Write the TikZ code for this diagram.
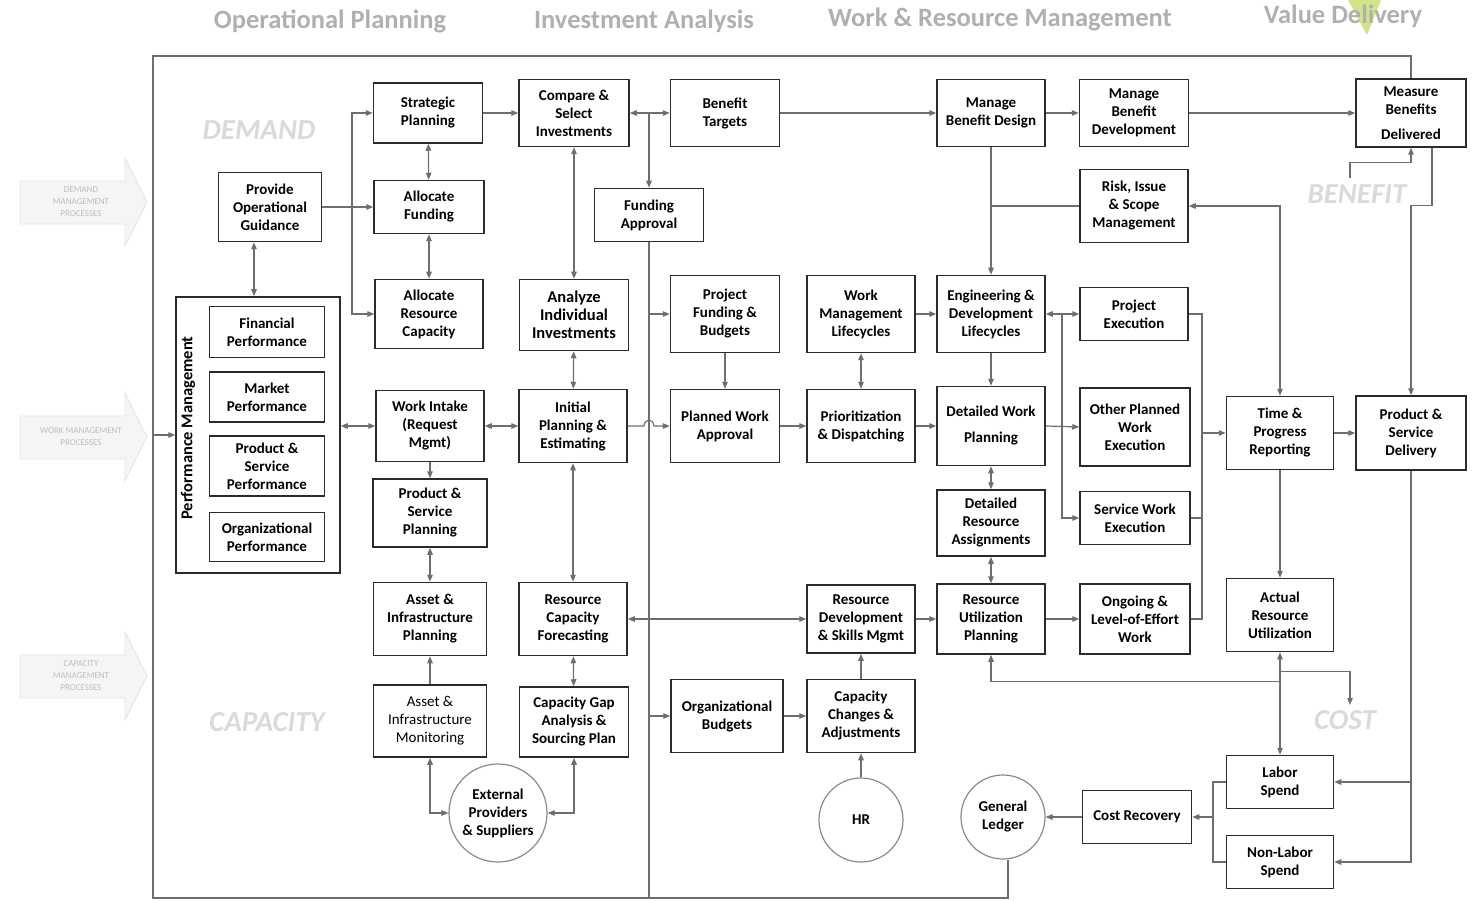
\documentclass[tikz,border=0pt]{standalone}
\usepackage{fontspec}
\setmainfont{Carlito}
\usepackage{xcolor}
\usetikzlibrary{positioning,arrows.meta,calc}

\definecolor{lineg}{HTML}{6E6E6E}
\definecolor{boxedge}{HTML}{2B2B2B}
\definecolor{ringedge}{HTML}{8A8A8A}
\definecolor{titleg}{HTML}{B0B0B0}
\definecolor{zoneg}{HTML}{DADADA}
\definecolor{procfill}{HTML}{F5F5F5}
\definecolor{procedge}{HTML}{E4E4E4}
\definecolor{proctext}{HTML}{BDBDBD}
\definecolor{leafg}{HTML}{D2E585}

\newcommand{\boxfont}{\bfseries\fontsize{15}{18}\selectfont}

\begin{document}
\begin{tikzpicture}[x=1pt,y=-1pt,
  box/.style={rectangle, draw=boxedge, line width=1.5pt, fill=white, align=center, font=\boxfont, inner sep=1pt},
  sz/.style 2 args={minimum width=#1pt, minimum height=#2pt},
  ring/.style={circle, draw=ringedge, line width=1.2pt, fill=white, align=center, font=\boxfont, inner sep=1pt},
  conn/.style={draw=lineg, line width=1.2pt},
  arr/.style={conn, -{Triangle[length=7pt,width=5.5pt]}},
  darr/.style={conn, {Triangle[length=7pt,width=5.5pt]}-{Triangle[length=7pt,width=5.5pt]}},
  headtxt/.style={font=\bfseries\fontsize{26.5}{30}\selectfont, text=titleg},
  zonetxt/.style={font=\bfseries\itshape\fontsize{29}{32}\selectfont, text=zoneg},
  proctxt/.style={font=\fontsize{9}{12}\selectfont, text=proctext, align=center}
  ]
  \useasboundingbox (0,0) rectangle (1473,901);

  % column headings
  \fill[leafg] (1348,0) -- (1381,0) -- (1367,35) -- cycle;
  \node[headtxt] (hop) at (330,21) {Operational Planning};
  \node[headtxt] (hia) at (644,21) {Investment Analysis};
  \node[headtxt] (hwr) at (1000,19) {Work \& Resource Management};
  \node[headtxt] (hvd) at (1343,16) {Value Delivery};

  % process arrows on the left
  \foreach \yy/\txt [count=\i] in {202/{DEMAND\\MANAGEMENT\\PROCESSES}, 437/{WORK MANAGEMENT\\PROCESSES}, 676/{CAPACITY\\MANAGEMENT\\PROCESSES}} {
    \filldraw[fill=procfill, draw=procedge, line width=0.8pt]
      (20,\yy-21) -- (125,\yy-21) -- (125,\yy-44) -- (147,\yy) -- (125,\yy+44) -- (125,\yy+22) -- (20,\yy+22) -- cycle;
    \node[proctxt] (pa\i) at (81,\yy) {\txt};
  }

  % zone labels
  \node[zonetxt] (zdem) at (259,130) {DEMAND};
  \node[zonetxt] (zben) at (1357,194) {BENEFIT};
  \node[zonetxt] (zcap) at (267,722) {CAPACITY};
  \node[zonetxt] (zcst) at (1345,720) {COST};

  % operational planning
  \node[box, sz={103}{69}] (provide) at (270,207) {Provide\\Operational\\Guidance};
  \node[box, sz={109}{60}] (strat) at (428,113) {Strategic\\Planning};
  \node[box, sz={110}{53}] (allocf) at (429,207) {Allocate\\Funding};
  \node[box, sz={108}{69}] (allocr) at (429,314) {Allocate\\Resource\\Capacity};
  \node[rectangle, draw=boxedge, line width=1.5pt, sz={164}{276}] (perf) at (258,435) {};
  \node[rotate=90, font=\bfseries\fontsize{16.5}{18}\selectfont] (perflbl) at (188,428) {Performance Management};
  \node[box, sz={115}{51}] (finp) at (267,332) {Financial\\Performance};
  \node[box, sz={115}{50}] (mktp) at (267,397) {Market\\Performance};
  \node[box, sz={115}{60}] (psp) at (267,466) {Product \&\\Service\\Performance};
  \node[box, sz={115}{49}] (orgp) at (267,537) {Organizational\\Performance};
  \node[box, sz={108}{71}] (intake) at (430,426) {Work Intake\\(Request\\Mgmt)};
  \node[box, sz={114}{68}] (psplan) at (430,513) {Product \&\\Service\\Planning};
  \node[box, sz={113}{73}] (aiplan) at (430,619) {Asset \&\\Infrastructure\\Planning};
  \node[box, sz={113}{72}, font=\fontsize{15}{18}\selectfont] (aimon) at (430,721) {Asset \&\\Infrastructure\\Monitoring};
  \node[ring, minimum size=98pt] (ext) at (498,813) {External\\Providers\\\& Suppliers};

  % investment analysis
  \node[box, sz={110}{67}] (compare) at (574,113) {Compare \&\\Select\\Investments};
  \node[box, sz={109}{71}, font=\bfseries\fontsize{16.5}{18}\selectfont] (analyze) at (574,315) {Analyze\\Individual\\Investments};
  \node[box, sz={108}{73}] (initial) at (573,426) {Initial\\Planning \&\\Estimating};
  \node[box, sz={108}{73}] (rcf) at (573,619) {Resource\\Capacity\\Forecasting};
  \node[box, sz={109}{70}] (gap) at (574,722) {Capacity Gap\\Analysis \&\\Sourcing Plan};
  \node[box, sz={109}{67}] (benefit) at (725,113) {Benefit\\Targets};
  \node[box, sz={109}{53}] (fundapp) at (649,215) {Funding\\Approval};
  \node[box, sz={109}{77}] (projfund) at (725,314) {Project\\Funding \&\\Budgets};
  \node[box, sz={109}{73}] (pwa) at (725,426) {Planned Work\\Approval};
  \node[box, sz={112}{73}] (orgbud) at (727,716) {Organizational\\Budgets};

  % work and resource management
  \node[box, sz={108}{77}] (wml) at (861,314) {Work\\Management\\Lifecycles};
  \node[box, sz={108}{73}] (prio) at (861,426) {Prioritization\\\& Dispatching};
  \node[box, sz={108}{68}] (resdev) at (861,619) {Resource\\Development\\\& Skills Mgmt};
  \node[box, sz={108}{73}] (capch) at (861,716) {Capacity\\Changes \&\\Adjustments};
  \node[ring, minimum size=84pt] (hr) at (861,820) {HR};
  \node[box, sz={108}{67}] (mbd) at (991,113) {Manage\\Benefit Design};
  \node[box, sz={108}{77}] (eng) at (991,314) {Engineering \&\\Development\\Lifecycles};
  \node[box, sz={108}{79}] (dwp) at (991,426) {Detailed Work\\[8pt]Planning};
  \node[box, sz={108}{66}] (dra) at (991,523) {Detailed\\Resource\\Assignments};
  \node[box, sz={108}{70}] (rup) at (991,619) {Resource\\Utilization\\Planning};
  \node[ring, minimum size=84pt] (gl) at (1003,817) {General\\Ledger};
  \node[box, sz={109}{67}] (mbdev) at (1134,113) {Manage\\Benefit\\Development};
  \node[box, sz={108}{73}] (risk) at (1134,206) {Risk, Issue\\\& Scope\\Management};
  \node[box, sz={108}{53}] (pexec) at (1134,314) {Project\\Execution};
  \node[box, sz={110}{78}] (opw) at (1135,427) {Other Planned\\Work\\Execution};
  \node[box, sz={110}{53}] (swe) at (1135,518) {Service Work\\Execution};
  \node[box, sz={110}{70}] (olw) at (1135,619) {Ongoing \&\\Level-of-Effort\\Work};
  \node[box, sz={109}{53}] (costrec) at (1137,817) {Cost Recovery};

  % value delivery
  \node[box, sz={107}{73}] (tpr) at (1280,433) {Time \&\\Progress\\Reporting};
  \node[box, sz={107}{73}] (aru) at (1280,615) {Actual\\Resource\\Utilization};
  \node[box, sz={107}{53}] (labor) at (1280,782) {Labor\\Spend};
  \node[box, sz={107}{53}] (nonlabor) at (1280,862) {Non-Labor\\Spend};
  \node[box, sz={110}{68}] (mbdel) at (1411,113) {Measure\\Benefits\\[7pt]Delivered};
  \node[box, sz={110}{74}] (psd) at (1411,433) {Product \&\\Service\\Delivery};

  % helper points
  \coordinate (pg) at (352,207);
  \coordinate (cb) at (649,113);
  \coordinate (fbot) at (649,898);
  \coordinate (ej) at (1062,314);
  \coordinate (tj) at (1202,433);
  \coordinate (lj) at (1213,817);
  \coordinate (bn) at (1350,178);
  \coordinate (cst) at (1350,705);

  % frame
  \draw[conn] ([xshift=5pt]gl.south) |- (153,898) -- (153,56) -| (mbdel.north);
  \draw[arr] (153,435) -- (perf.west);

  % operational planning links
  \draw[conn] (provide.east) -- (pg);
  \draw[arr] (pg) |- (strat.west);
  \draw[arr] (pg) -- (allocf.west);
  \draw[arr] (pg) |- (allocr.west);
  \draw[darr] (strat) -- (allocf);
  \draw[darr] (allocf) -- (allocr);
  \draw[darr] ([xshift=-16pt]provide.south) -- ([xshift=-16pt]provide.south |- perf.north);
  \draw[darr] (intake.west -| perf.east) -- (intake.west);
  \draw[darr] (intake) -- (initial);
  \draw[arr] (intake) -- (psplan);
  \draw[darr] (psplan) -- (aiplan);
  \draw[arr] (aimon) -- (aiplan);
  \draw[darr] (aimon.south) |- (ext.west);
  \draw[darr] (gap.south) |- (ext.east);

  % investment analysis links
  \draw[arr] (strat) -- (compare);
  \draw[darr] (compare) -- (benefit);
  \draw[arr] (cb) -- (fundapp.north);
  \draw[darr] (compare) -- (analyze);
  \draw[darr] (analyze) -- (initial);
  \draw[darr] (initial) -- (rcf);
  \draw[darr] (rcf) -- (gap);
  \draw[conn] (fundapp.south) -- (fbot);
  \draw[arr] (fundapp.south |- projfund.west) -- (projfund.west);
  \draw[arr] (fundapp.south |- orgbud.west) -- (orgbud.west);
  \draw[arr] (initial.east) -- (644,426) .. controls (645,418) and (653,418) .. (654,426) -- (pwa.west);
  \draw[arr] (projfund) -- (pwa);
  \draw[darr] (rcf) -- (resdev);
  \draw[arr] (orgbud) -- (capch);

  % work and resource management links
  \draw[arr] (benefit) -- (mbd);
  \draw[arr] (mbd) -- (mbdev);
  \draw[arr] (mbdev) -- (mbdel);
  \draw[arr] (mbd) -- (eng);
  \draw[conn] (risk.west) -- (risk.west -| mbd.south);
  \draw[darr] (tpr.north) |- (risk.east);
  \draw[arr] (pwa) -- (prio);
  \draw[darr] (wml) -- (prio);
  \draw[arr] (wml) -- (eng);
  \draw[arr] (prio) -- (dwp);
  \draw[arr] (eng) -- (dwp);
  \draw[darr] (dwp) -- (dra);
  \draw[darr] (dra) -- (rup);
  \draw[darr] (eng) -- (pexec);
  \draw[arr] (ej) |- (swe.west);
  \draw[arr] (dwp.east) -- (opw.west);
  \draw[conn] (pexec.east) -| (tj);
  \draw[conn] (swe.east) -| (tj);
  \draw[conn] (olw.east) -| (tj);
  \draw[arr] (tj) -- (tpr.west);
  \draw[arr] (resdev) -- (rup);
  \draw[arr] (rup) -- (olw);
  \draw[arr] (capch) -- (resdev);
  \draw[arr] (hr) -- (capch);

  % value delivery links
  \draw[arr] (bn) |- ([yshift=-15pt]mbdel.south) -- (mbdel.south);
  \draw[arr] ([xshift=21pt]mbdel.south) -- ++(0,58) -| (psd.north);
  \draw[arr] (tpr) -- (psd);
  \draw[arr] (tpr) -- (aru);
  \draw[darr] (aru) -- (labor);
  \draw[arr] ([yshift=-29pt]aru.south) -| (rup.south);
  \draw[arr] ([yshift=-19pt]aru.south) -| (cst);
  \draw[arr] (psd.south) |- (labor.east);
  \draw[arr] (psd.south) |- (nonlabor.east);
  \draw[conn] (labor.west) -| (lj);
  \draw[conn] (nonlabor.west) -| (lj);
  \draw[arr] (lj) -- (costrec.east);
  \draw[arr] (costrec) -- (gl);
\end{tikzpicture}
\end{document}
